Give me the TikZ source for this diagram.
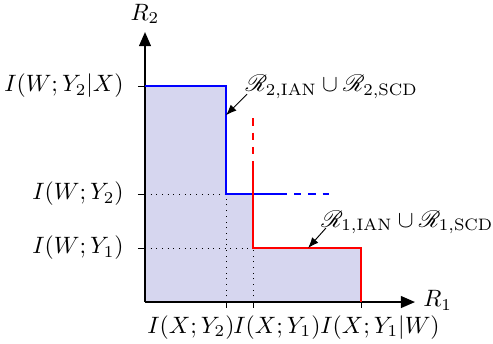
\documentclass[tikz,border=0pt]{standalone}
\usepackage{amsmath, amssymb, mathrsfs}
\usetikzlibrary{arrows.meta, positioning, calc}
\definecolor{regionfill}{RGB}{214, 214, 239}

\begin{document}
\begin{tikzpicture}[
    x=22.8pt, y=22.8pt,
    axis/.style={thick, -{Triangle[length=6pt, width=5pt]}},
    tickmark/.style={thin},
    guide/.style={thin, dotted},
    bound2/.style={blue, thick},
    bound1/.style={red, thick},
    pointer/.style={-{Latex[length=4.5pt, width=3.5pt]}, thin}
]
    \useasboundingbox (-2.685,-0.759) rectangle (6.444,5.593);

    % achievable region
    \fill[regionfill] (0,0) -- (0,4) -- (1.5,4) -- (1.5,2) -- (2,2) -- (2,1) -- (4,1) -- (4,0) -- cycle;

    \draw[guide] (0,2) -- (1.5,2) (0,1) -- (2,1) (1.5,0) -- (1.5,2) (2,0) -- (2,1);

    \coordinate (O) at (0,0);
    \node[right] (r1) at (5,0.03) {$R_1$};
    \node[above] (r2) at (0,5) {$R_2$};
    \draw[axis] (O) -- (r1.west |- O);
    \draw[axis] (O) -- (r2.south);

    \foreach \yy in {1,2,4} \draw[tickmark] (-0.13,\yy) -- (0,\yy);
    \foreach \xx in {1.5,2,4} \draw[tickmark] (\xx,0) -- (\xx,-0.11);

    \node[anchor=east] (ly4) at (-0.24,4) {$I(W;Y_2|X)$};
    \node[anchor=east] (ly2) at (-0.24,2) {$I(W;Y_2)$};
    \node[anchor=east] (ly1) at (-0.24,1) {$I(W;Y_1)$};

    \node (lx15) at (0.852,-0.47) {$I(X;Y_2)$};
    \node (lx2) at (2.444,-0.47) {$I(X;Y_1)$};
    \node (lx4) at (4.352,-0.47) {$I(X;Y_1|W)$};

    % boundaries
    \draw[bound2] (0,4) -- (1.5,4) -- (1.5,2) -- (2.5,2);
    \draw[bound2, dashed] (2.5,2) -- (3.4,2);
    \draw[bound1, dashed] (2,3.4) -- (2,2.5);
    \draw[bound1] (2,2.5) -- (2,1) -- (4,1) -- (4,0);

    \coordinate (p2) at (1.5,3.46);
    \coordinate (p1) at (3.02,1);
    \node[anchor=west] (lab2) at (1.71,3.98) {$\mathscr{R}_{2,\mathrm{IAN}}\cup\mathscr{R}_{2,\mathrm{SCD}}$};
    \node[anchor=west] (lab1) at (3.11,1.48) {$\mathscr{R}_{1,\mathrm{IAN}}\cup\mathscr{R}_{1,\mathrm{SCD}}$};
    \draw[pointer] ($(lab2.west)+(0.18,-0.13)$) -- (p2);
    \draw[pointer] ($(lab1.west)+(0.24,-0.11)$) -- (p1);
\end{tikzpicture}
\end{document}
